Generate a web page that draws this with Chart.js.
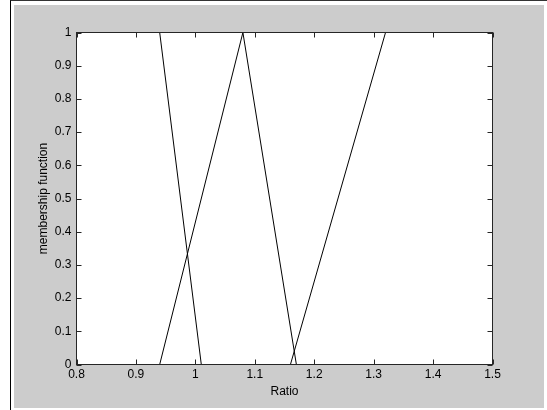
<!DOCTYPE html>
<html>
<head>
<meta charset="utf-8">
<title>membership function</title>
<script src="https://cdn.jsdelivr.net/npm/chart.js@4/dist/chart.umd.min.js"></script>
<style>
  html, body { margin: 0; padding: 0; background: #fff; }
  body { width: 547px; height: 410px; position: relative; overflow: hidden; }
  #frame {
    position: absolute; left: 10px; top: 0; width: 537px; height: 410px;
    border-left: 1px solid #000; border-top: 1px solid #333; box-sizing: border-box;
  }
  #panel {
    position: absolute; left: 14px; top: 5px; width: 530px; height: 403px;
    background: #cccccc;
  }
  #chart { display: block; }
</style>
</head>
<body>
<div id="frame"></div>
<div id="panel">
  <canvas id="chart" width="530" height="403"></canvas>
</div>
<script>
// membership functions over the ratio axis
var ratioLow  = [0.8, 0.94, 1.01, 1.5];
var muLow     = [1, 1, 0, 0];
var ratioMid  = [0.8, 0.94, 1.08, 1.17, 1.5];
var muMid     = [0, 0, 1, 0, 0];
var ratioHigh = [0.8, 1.16, 1.32, 1.5];
var muHigh    = [0, 0, 1, 1];

// axes
var xRange = [0.8, 1.5];
var yRange = [0, 1];
var tickStep = 0.1;

var FONT = { family: '"Liberation Sans", Arial, Helvetica, sans-serif', size: 12 };

function toPoints(xs, ys) {
  return xs.map(function (x, i) { return { x: x, y: ys[i] }; });
}

function fmt(v) {
  return String(Number(v.toFixed(2)));
}

function lineSet(xs, ys) {
  return {
    data: toPoints(xs, ys),
    showLine: true,
    borderColor: '#000',
    borderWidth: 1,
    pointRadius: 0,
    tension: 0
  };
}

// box round the plot and the small inward ticks on all four sides
var axesBox = {
  id: 'axesBox',
  afterDraw: function (chart) {
    var ctx = chart.ctx;
    var a = chart.chartArea;
    var xs = chart.scales.x, ys = chart.scales.y;
    var len = 5;
    ctx.save();
    ctx.strokeStyle = '#262626';
    ctx.lineWidth = 1;
    ctx.beginPath();
    xs.ticks.forEach(function (t) {
      var px = Math.round(xs.getPixelForValue(t.value)) + 0.5;
      ctx.moveTo(px, a.bottom); ctx.lineTo(px, a.bottom - len);
      ctx.moveTo(px, a.top);    ctx.lineTo(px, a.top + len);
    });
    ys.ticks.forEach(function (t) {
      var py = Math.round(ys.getPixelForValue(t.value)) + 0.5;
      ctx.moveTo(a.left, py);  ctx.lineTo(a.left + len, py);
      ctx.moveTo(a.right, py); ctx.lineTo(a.right - len, py);
    });
    ctx.stroke();
    ctx.strokeRect(a.left, a.top, a.right - a.left, a.bottom - a.top);
    ctx.restore();
  }
};

// white plotting area
var plotBg = {
  id: 'plotBg',
  beforeDraw: function (chart) {
    var a = chart.chartArea;
    chart.ctx.save();
    chart.ctx.fillStyle = '#fff';
    chart.ctx.fillRect(a.left, a.top, a.right - a.left, a.bottom - a.top);
    chart.ctx.restore();
  }
};

new Chart(document.getElementById('chart'), {
  type: 'scatter',
  data: {
    datasets: [
      lineSet(ratioLow, muLow),
      lineSet(ratioMid, muMid),
      lineSet(ratioHigh, muHigh)
    ]
  },
  options: {
    responsive: false,
    animation: false,
    devicePixelRatio: 1,
    layout: { padding: { left: 0, top: 27.5, right: 51.5, bottom: 0 } },
    plugins: { legend: { display: false }, tooltip: { enabled: false } },
    scales: {
      x: {
        type: 'linear',
        min: xRange[0], max: xRange[1],
        grid: { display: false, drawTicks: false },
        border: { display: false },
        ticks: {
          stepSize: tickStep, color: '#000', font: FONT, padding: 3,
          maxRotation: 0, autoSkip: false,
          callback: function (v) { return fmt(v); }
        },
        title: { display: true, text: 'Ratio', color: '#000', font: FONT, padding: { top: 0, bottom: 9 } },
        afterFit: function (s) { s.height = 43.5; s.paddingLeft = 0; s.paddingRight = 0; }
      },
      y: {
        type: 'linear',
        min: yRange[0], max: yRange[1],
        grid: { display: false, drawTicks: false },
        border: { display: false },
        ticks: {
          stepSize: tickStep, color: '#000', font: FONT, padding: 5,
          autoSkip: false,
          callback: function (v) { return fmt(v); }
        },
        title: { display: true, text: 'membership function', color: '#000', font: FONT, padding: { top: 22, bottom: 0 } },
        afterFit: function (s) { s.width = 62.5; s.paddingTop = 0; s.paddingBottom = 0; }
      }
    }
  },
  plugins: [plotBg, axesBox]
});
</script>
</body>
</html>
